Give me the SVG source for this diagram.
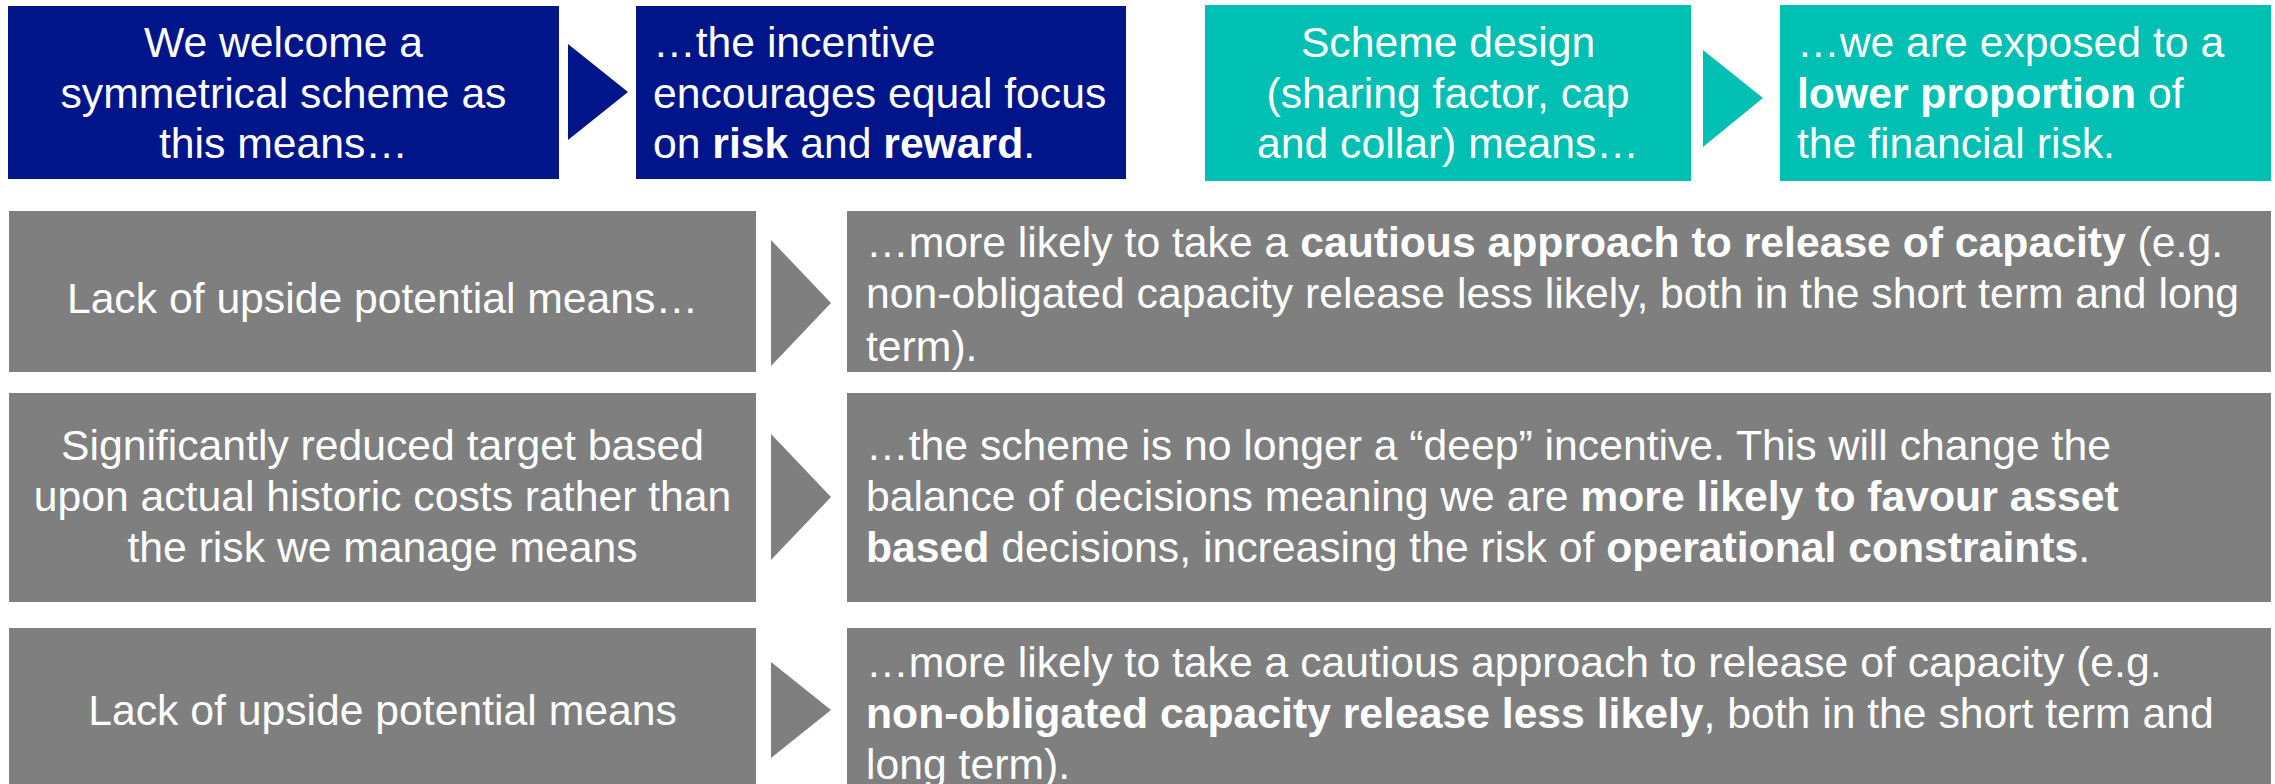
<svg xmlns="http://www.w3.org/2000/svg" width="2275" height="784" viewBox="0 0 2275 784">
  <style>
    .navy { fill: #001589; }
    .teal { fill: #00BFB3; }
    .grey { fill: #7F7F80; }
    text { font-family: "Liberation Sans", Arial, sans-serif; font-size: 42.7px; fill: #FFFFFF; }
    .c { text-anchor: middle; }
    .b { font-weight: bold; }
  </style>
  <rect width="2275" height="784" fill="#FFFFFF"/>

  <!-- connectors: chevron arrows between cause and effect boxes -->
  <g id="connectors">
    <polygon class="navy" points="568,44 628,92 568,140"/>
    <polygon class="teal" points="1703,50 1763,98 1703,147"/>
    <polygon class="grey" points="771,240 831,303 771,366"/>
    <polygon class="grey" points="771,434 831,497 771,560"/>
    <polygon class="grey" points="771,662 831,710 771,758"/>
  </g>

  <!-- top row: symmetry -->
  <g id="symmetry-cause">
    <rect class="navy" x="8" y="6" width="551" height="173"/>
    <text class="c" x="283.5" y="57">We welcome a</text>
    <text class="c" x="283.5" y="108">symmetrical scheme as</text>
    <text class="c" x="283.5" y="158">this means…</text>
  </g>
  <g id="symmetry-effect">
    <rect class="navy" x="636" y="6" width="490" height="173"/>
    <text x="653" y="57">…the incentive</text>
    <text x="653" y="108">encourages equal focus</text>
    <text x="653" y="158">on <tspan class="b">risk</tspan> and <tspan class="b">reward</tspan>.</text>
  </g>

  <!-- top row: scheme design -->
  <g id="design-cause">
    <rect class="teal" x="1205" y="5" width="486" height="176"/>
    <text class="c" x="1448" y="57">Scheme design</text>
    <text class="c" x="1448" y="108">(sharing factor, cap</text>
    <text class="c" x="1448" y="158">and collar) means…</text>
  </g>
  <g id="design-effect">
    <rect class="teal" x="1780" y="5" width="491" height="176"/>
    <text x="1797" y="57">…we are exposed to a</text>
    <text x="1797" y="108"><tspan class="b">lower proportion</tspan> of</text>
    <text x="1797" y="158">the financial risk.</text>
  </g>

  <!-- row 2 -->
  <g id="upside-cause-1">
    <rect class="grey" x="9" y="211" width="747" height="161"/>
    <text class="c" x="382.5" y="313">Lack of upside potential means…</text>
  </g>
  <g id="upside-effect-1">
    <rect class="grey" x="847" y="211" width="1424" height="161"/>
    <text x="866" y="257">…more likely to take a <tspan class="b">cautious approach to release of capacity</tspan> (e.g.</text>
    <text x="866" y="308">non-obligated capacity release less likely, both in the short term and long</text>
    <text x="866" y="361">term).</text>
  </g>

  <!-- row 3 -->
  <g id="target-cause">
    <rect class="grey" x="9" y="393" width="747" height="209"/>
    <text class="c" x="382.5" y="460">Significantly reduced target based</text>
    <text class="c" x="382.5" y="511">upon actual historic costs rather than</text>
    <text class="c" x="382.5" y="562">the risk we manage means</text>
  </g>
  <g id="target-effect">
    <rect class="grey" x="847" y="393" width="1424" height="209"/>
    <text x="866" y="460">…the scheme is no longer a “deep” incentive. This will change the</text>
    <text x="866" y="511">balance of decisions meaning we are <tspan class="b">more likely to favour asset</tspan></text>
    <text x="866" y="562"><tspan class="b">based</tspan> decisions, increasing the risk of <tspan class="b">operational constraints</tspan>.</text>
  </g>

  <!-- row 4 -->
  <g id="upside-cause-2">
    <rect class="grey" x="9" y="628" width="747" height="160"/>
    <text class="c" x="382.5" y="725">Lack of upside potential means</text>
  </g>
  <g id="upside-effect-2">
    <rect class="grey" x="847" y="628" width="1424" height="160"/>
    <text x="866" y="677">…more likely to take a cautious approach to release of capacity (e.g.</text>
    <text x="866" y="728"><tspan class="b">non-obligated capacity release less likely</tspan>, both in the short term and</text>
    <text x="866" y="779">long term).</text>
  </g>
</svg>
